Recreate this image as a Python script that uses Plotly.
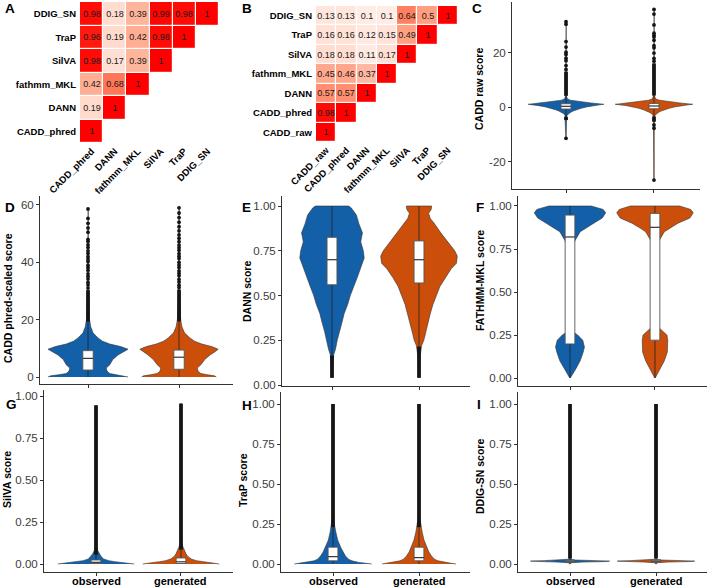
import plotly.graph_objects as go

W, H = 708, 588
FONT = "Liberation Sans, Arial, sans-serif"
BLUE = "#1360A8"
ORANGE = "#CB4F0A"

# ---------------- heatmap data ----------------
a_rows = ["DDIG_SN", "TraP", "SilVA", "fathmm_MKL", "DANN", "CADD_phred"]
a_cols = ["CADD_phred", "DANN", "fathmm_MKL", "SilVA", "TraP", "DDIG_SN"]
a_vals = [
    [0.98, 0.18, 0.39, 0.99, 0.98, 1],
    [0.96, 0.19, 0.42, 0.98, 1],
    [0.98, 0.17, 0.39, 1],
    [0.42, 0.68, 1],
    [0.19, 1],
    [1],
]
b_rows = ["DDIG_SN", "TraP", "SilVA", "fathmm_MKL", "DANN", "CADD_phred", "CADD_raw"]
b_cols = ["CADD_raw", "CADD_phred", "DANN", "fathmm_MKL", "SilVA", "TraP", "DDIG_SN"]
b_vals = [
    [0.13, 0.13, 0.1, 0.1, 0.64, 0.5, 1],
    [0.16, 0.16, 0.12, 0.15, 0.49, 1],
    [0.18, 0.18, 0.11, 0.17, 1],
    [0.45, 0.46, 0.37, 1],
    [0.57, 0.57, 1],
    [0.98, 1],
    [1],
]

# ---------------- violin panels data ----------------
groups = ["observed", "generated"]
group_pos = [1, 2]

# C: CADD raw score
c_obs_levels = [-11.5, -6, -4, -3, -2.5, -2, -1.5, -1, -0.5, 0, 0.5, 0.8, 1.0, 1.2, 1.5, 2.0, 2.5, 3.0, 4, 8, 20, 31.5]
c_obs_width = [0.002, 0.003, 0.006, 0.012, 0.025, 0.05, 0.08, 0.12, 0.17, 0.23, 0.31, 0.38, 0.43, 0.37, 0.28, 0.15, 0.05, 0.015, 0.006, 0.003, 0.002, 0.002]
c_gen_levels = [-27, -8, -4, -3, -2.5, -2, -1.5, -1, -0.5, 0, 0.5, 0.8, 1.0, 1.2, 1.5, 2.0, 2.5, 3.0, 4, 8, 20, 36]
c_gen_width = [0.002, 0.003, 0.006, 0.012, 0.025, 0.05, 0.08, 0.12, 0.17, 0.23, 0.31, 0.39, 0.44, 0.38, 0.29, 0.16, 0.06, 0.018, 0.007, 0.003, 0.002, 0.002]
c_q1 = [-0.75, -0.65]
c_med = [0.25, 0.37]
c_q3 = [1.2, 1.3]
c_lo = [-3.6, -3.5]
c_hi = [4.1, 4.2]
c_obs_dense = [[-4.8, -3.6], [4.1, 13.0]]
c_gen_dense = [[-5.4, -3.5], [4.2, 16.0]]
c_obs_pts = [-11.5, 13.8, 15.2, 17.0, 17.9, 19.3, 20.1, 22.0, 24.0, 30.4, 31.3]
c_gen_pts = [-26.8, -7.8, -6.6, 16.8, 17.8, 19.8, 21.7, 22.5, 24.5, 25.7, 26.3, 27.1, 30.1, 34.1, 35.8]

# D: CADD phred-scaled score
d_obs_levels = [0, 0.4, 0.8, 1.2, 2.0, 3.1, 4.3, 6.0, 7.7, 8.9, 9.7, 10.6, 11.5, 12.5, 13.6, 15.4, 17.5, 20, 25, 30, 40, 58]
d_obs_width = [0.44, 0.41, 0.32, 0.24, 0.21, 0.2, 0.24, 0.27, 0.33, 0.4, 0.44, 0.36, 0.24, 0.16, 0.11, 0.055, 0.03, 0.017, 0.008, 0.005, 0.003, 0.002]
d_gen_levels = [0, 0.4, 0.8, 1.2, 2.0, 3.1, 4.3, 6.0, 7.7, 8.9, 9.7, 10.6, 11.5, 12.5, 13.6, 15.4, 17.5, 20, 25, 30, 40, 59]
d_gen_width = [0.41, 0.39, 0.31, 0.24, 0.21, 0.2, 0.24, 0.28, 0.34, 0.4, 0.43, 0.36, 0.25, 0.17, 0.12, 0.06, 0.032, 0.018, 0.009, 0.005, 0.003, 0.002]
d_q1 = [2.44, 2.7]
d_med = [6.5, 6.9]
d_q3 = [9.2, 9.4]
d_lo = [0, 0]
d_hi = [19.3, 19.4]
d_obs_dense = [[19.3, 30.3]]
d_gen_dense = [[19.4, 30.5]]
d_obs_pts = [31.0, 32.1, 33.0, 34.2, 35.1, 36.0, 37.2, 38.1, 39.0, 40.3, 41.2, 42.0, 43.1, 44.0, 45.2, 46.1, 47.3, 48.0, 50.5, 52.0, 53.6, 55.3, 58.6]
d_gen_pts = [31.2, 32.0, 33.1, 34.0, 35.3, 36.1, 37.0, 38.2, 39.1, 40.0, 41.3, 42.1, 43.0, 44.2, 45.1, 46.0, 47.2, 48.4, 49.6, 51.0, 52.4, 54.0, 55.6, 57.2, 59.0]

# E: DANN score
e_obs_levels = [0.04, 0.1, 0.17, 0.2, 0.25, 0.3, 0.35, 0.4, 0.45, 0.5, 0.55, 0.6, 0.65, 0.71, 0.75, 0.8, 0.85, 0.9, 0.95, 0.97, 0.99, 1.0]
e_obs_width = [0.003, 0.01, 0.02, 0.04, 0.06, 0.086, 0.115, 0.14, 0.18, 0.21, 0.25, 0.29, 0.33, 0.37, 0.36, 0.33, 0.35, 0.31, 0.28, 0.25, 0.22, 0.19]
e_gen_levels = [0.04, 0.1, 0.15, 0.22, 0.25, 0.3, 0.35, 0.4, 0.45, 0.5, 0.55, 0.6, 0.65, 0.68, 0.72, 0.75, 0.8, 0.85, 0.9, 0.93, 0.96, 0.98, 1.0]
e_gen_width = [0.003, 0.006, 0.01, 0.03, 0.055, 0.08, 0.105, 0.13, 0.16, 0.2, 0.24, 0.3, 0.37, 0.43, 0.44, 0.41, 0.33, 0.25, 0.18, 0.13, 0.11, 0.14, 0.145]
e_q1 = [0.56, 0.57]
e_med = [0.70, 0.70]
e_q3 = [0.825, 0.805]
e_lo = [0.165, 0.215]
e_hi = [1.0, 1.0]
e_obs_dense = [[0.04, 0.165]]
e_gen_dense = [[0.04, 0.215]]

# F: FATHMM-MKL score
f_levels = [0.0, 0.02, 0.05, 0.1, 0.15, 0.18, 0.22, 0.25, 0.27, 0.3, 0.35, 0.4, 0.5, 0.6, 0.7, 0.75, 0.8, 0.85, 0.87, 0.9, 0.93, 0.96, 0.98, 1.0]
f_obs_width = [0.003, 0.025, 0.065, 0.12, 0.155, 0.17, 0.15, 0.09, 0.03, 0.015, 0.008, 0.005, 0.003, 0.004, 0.01, 0.025, 0.06, 0.12, 0.18, 0.28, 0.38, 0.42, 0.39, 0.25]
f_gen_width = [0.003, 0.025, 0.06, 0.11, 0.145, 0.15, 0.15, 0.14, 0.1, 0.03, 0.01, 0.005, 0.003, 0.004, 0.01, 0.02, 0.05, 0.11, 0.17, 0.27, 0.41, 0.45, 0.42, 0.29]
f_q1 = [0.198, 0.22]
f_med = [0.82, 0.876]
f_q3 = [0.947, 0.957]
f_lo = [0.0, 0.0]
f_hi = [1.0, 1.0]

# G: SilVA score
g_obs_levels = [0, 0.004, 0.008, 0.014, 0.02, 0.03, 0.045, 0.06, 0.08, 0.1, 0.15, 0.3, 0.945]
g_obs_width = [0.45, 0.40, 0.32, 0.22, 0.15, 0.09, 0.06, 0.04, 0.02, 0.01, 0.005, 0.003, 0.002]
g_gen_levels = [0, 0.004, 0.008, 0.014, 0.02, 0.03, 0.045, 0.06, 0.08, 0.1, 0.12, 0.2, 0.955]
g_gen_width = [0.45, 0.41, 0.34, 0.25, 0.18, 0.12, 0.08, 0.06, 0.04, 0.025, 0.012, 0.005, 0.002]
g_q1 = [0.003, 0.003]
g_med = [0.01, 0.013]
g_q3 = [0.024, 0.036]
g_lo = [0.0, 0.0]
g_hi = [0.055, 0.085]
g_obs_dense = [[0.055, 0.945]]
g_gen_dense = [[0.085, 0.955]]

# H: TraP score
h_levels = [0, 0.005, 0.01, 0.02, 0.03, 0.05, 0.075, 0.1, 0.15, 0.2, 0.25, 0.3, 0.5, 1.0]
h_obs_width = [0.45, 0.38, 0.3, 0.22, 0.18, 0.145, 0.115, 0.093, 0.054, 0.033, 0.015, 0.006, 0.003, 0.002]
h_gen_width = [0.43, 0.37, 0.3, 0.22, 0.18, 0.145, 0.115, 0.095, 0.058, 0.036, 0.018, 0.007, 0.003, 0.002]
h_q1 = [0.02, 0.02]
h_med = [0.046, 0.04]
h_q3 = [0.105, 0.105]
h_lo = [0.0, 0.0]
h_hi = [0.23, 0.23]
h_obs_dense = [[0.23, 1.0]]
h_gen_dense = [[0.23, 1.0]]

# I: DDIG-SN score
i_levels = [0.0, 0.008, 0.012, 0.015, 0.018, 0.021, 0.025, 0.03, 0.05, 1.0]
i_obs_width = [0.003, 0.02, 0.15, 0.4, 0.46, 0.3, 0.06, 0.01, 0.004, 0.002]
i_gen_width = [0.003, 0.02, 0.14, 0.38, 0.45, 0.3, 0.06, 0.01, 0.004, 0.002]
i_q1 = [0.012, 0.014]
i_med = [0.018, 0.019]
i_q3 = [0.024, 0.026]
i_lo = [0.005, 0.005]
i_hi = [0.034, 0.035]
i_obs_dense = [[0.034, 1.0]]
i_gen_dense = [[0.035, 1.0]]


# ---------------- helpers ----------------
def pxx(p):
    return p / W


def pxy(p):
    return 1 - p / H


def _lin(c):
    c = c / 255.0
    return c / 12.92 if c <= 0.04045 else ((c + 0.055) / 1.055) ** 2.4


def _f(t):
    return t ** (1 / 3) if t > (6 / 29) ** 3 else t / (3 * (6 / 29) ** 2) + 4 / 29


def _finv(t):
    return t ** 3 if t > 6 / 29 else 3 * (6 / 29) ** 2 * (t - 4 / 29)


def rgb2lab(rgb):
    r, g, b = [_lin(c) for c in rgb]
    X = (0.4124 * r + 0.3576 * g + 0.1805 * b) / 0.95047
    Y = 0.2126 * r + 0.7152 * g + 0.0722 * b
    Z = (0.0193 * r + 0.1192 * g + 0.9505 * b) / 1.08883
    return (116 * _f(Y) - 16, 500 * (_f(X) - _f(Y)), 200 * (_f(Y) - _f(Z)))


def lab2rgb(lab):
    L, a, b = lab
    fy = (L + 16) / 116
    X = _finv(fy + a / 500) * 0.95047
    Y = _finv(fy)
    Z = _finv(fy - b / 200) * 1.08883
    r = 3.2406 * X - 1.5372 * Y - 0.4986 * Z
    g = -0.9689 * X + 1.8758 * Y + 0.0415 * Z
    bb = 0.0557 * X - 0.2040 * Y + 1.0570 * Z
    out = []
    for c in (r, g, bb):
        c = max(0.0, c)
        v = 12.92 * c if c <= 0.0031308 else 1.055 * c ** (1 / 2.4) - 0.055
        out.append(int(max(0, min(255, round(v * 255)))))
    return "rgb(%d,%d,%d)" % tuple(out)


lw, lr = rgb2lab((255, 255, 255)), rgb2lab((255, 0, 0))
colorscale = []
for k in range(11):
    t = k / 10
    colorscale.append([t, lab2rgb(tuple(lw[j] + (lr[j] - lw[j]) * t for j in range(3)))])


def tri(vals, ncol):
    z, txt = [], []
    for r in vals:
        z.append(list(r) + [None] * (ncol - len(r)))
        txt.append([("%g" % v) for v in r] + [""] * (ncol - len(r)))
    return z, txt


fig = go.Figure()
annotations = []

# ---------------- heatmaps ----------------
def add_heat(idx, rows, cols, vals, xpx, ypx):
    z, txt = tri(vals, len(cols))
    sfx = "" if idx == 1 else str(idx)
    fig.add_trace(go.Heatmap(
        z=z, x=cols, y=rows, text=txt, texttemplate="%{text}",
        textfont=dict(size=9, color="#1a1a1a", family=FONT),
        colorscale=colorscale, zmin=0, zmax=1, showscale=False,
        xgap=1.2, ygap=1.2, hoverinfo="skip", xaxis="x" + sfx, yaxis="y" + sfx))
    n, m = len(cols), len(rows)
    fig.layout["xaxis" + sfx] = dict(
        domain=[pxx(xpx[0]), pxx(xpx[1])], anchor="y" + sfx, type="category",
        range=[-0.5, n - 0.5], showgrid=False, zeroline=False, showline=False,
        ticks="", tickangle=-45, automargin=False,
        tickfont=dict(size=9.5, color="black", family=FONT, weight="bold"))
    fig.layout["yaxis" + sfx] = dict(
        domain=[pxy(ypx[1]), pxy(ypx[0])], anchor="x" + sfx, type="category",
        range=[m - 0.5, -0.5], showgrid=False, zeroline=False, showline=False,
        ticks="", ticklabelstandoff=3, automargin=False,
        tickfont=dict(size=9.5, color="black", family=FONT, weight="bold"))


add_heat(1, a_rows, a_cols, a_vals, (80, 219), (2, 143))
add_heat(2, b_rows, b_cols, b_vals, (316, 458), (6, 142))

# ---------------- violins ----------------
BOX_HW = 0.057


def violin_trace(sfx, pos, levels, widths, color):
    xs = [pos - w for w in widths] + [pos + w for w in widths[::-1]]
    ys = list(levels) + list(levels[::-1])
    fig.add_trace(go.Scatter(
        x=xs, y=ys, fill="toself", fillcolor=color, mode="lines",
        line=dict(color="#333333", width=0.6), hoverinfo="skip",
        showlegend=False, xaxis="x" + sfx, yaxis="y" + sfx))


def box_traces(sfx, pos, q1, med, q3, lo, hi):
    kw = dict(hoverinfo="skip", showlegend=False, xaxis="x" + sfx, yaxis="y" + sfx)
    fig.add_trace(go.Scatter(x=[pos, pos, None, pos, pos], y=[lo, q1, None, q3, hi],
                             mode="lines", line=dict(color="#222222", width=0.8), **kw))
    fig.add_trace(go.Scatter(
        x=[pos - BOX_HW, pos + BOX_HW, pos + BOX_HW, pos - BOX_HW, pos - BOX_HW],
        y=[q1, q1, q3, q3, q1], fill="toself", fillcolor="white", mode="lines",
        line=dict(color="#555555", width=0.9), **kw))
    fig.add_trace(go.Scatter(x=[pos - BOX_HW, pos + BOX_HW], y=[med, med], mode="lines",
                             line=dict(color="#333333", width=1.2), **kw))


def outliers(sfx, pos, dense, pts):
    if dense:
        xs, ys = [], []
        for a, b in dense:
            xs += [pos, pos, None]
            ys += [a, b, None]
        fig.add_trace(go.Scatter(x=xs, y=ys, mode="lines",
                                 line=dict(color="#151515", width=3.8),
                                 hoverinfo="skip", showlegend=False,
                                 xaxis="x" + sfx, yaxis="y" + sfx))
    if pts:
        fig.add_trace(go.Scatter(x=[pos] * len(pts), y=pts, mode="markers",
                                 marker=dict(color="#151515", size=3.8),
                                 hoverinfo="skip", showlegend=False,
                                 xaxis="x" + sfx, yaxis="y" + sfx))


def panel(idx, xpx, ypx, xr, yr, ytv, ytt, show_x, obs, gen, box, title, tpos):
    sfx = str(idx)
    violin_trace(sfx, group_pos[0], obs[0], obs[1], BLUE)
    violin_trace(sfx, group_pos[1], gen[0], gen[1], ORANGE)
    q1, med, q3, lo, hi = box
    for g in range(2):
        box_traces(sfx, group_pos[g], q1[g], med[g], q3[g], lo[g], hi[g])
    outliers(sfx, group_pos[0], obs[2], obs[3])
    outliers(sfx, group_pos[1], gen[2], gen[3])
    fig.layout["xaxis" + sfx] = dict(
        domain=[pxx(xpx[0]), pxx(xpx[1])], anchor="y" + sfx, range=xr,
        showgrid=False, zeroline=False, showline=True, linecolor="#333333",
        linewidth=1, ticks="outside", ticklen=3, tickcolor="#333333",
        tickvals=group_pos, showticklabels=False, automargin=False)
    fig.layout["yaxis" + sfx] = dict(
        domain=[pxy(ypx[1]), pxy(ypx[0])], anchor="x" + sfx, range=yr,
        showgrid=False, zeroline=False, showline=True, linecolor="#333333",
        linewidth=1, ticks="outside", ticklen=3, tickcolor="#333333",
        tickvals=ytv, ticktext=ytt, automargin=False,
        tickfont=dict(size=11.5, color="#3c3c3c", family=FONT))
    if show_x:
        for g in range(2):
            annotations.append(dict(
                text="<b>%s</b>" % groups[g], x=group_pos[g], y=pxy(581),
                xref="x" + sfx, yref="paper", xanchor="center", yanchor="middle",
                showarrow=False, font=dict(size=11, color="black", family=FONT)))
    annotations.append(dict(
        text="<b>%s</b>" % title, x=pxx(tpos[0]), y=pxy(tpos[1]), xref="paper",
        yref="paper", xanchor="center", yanchor="middle", textangle=-90,
        showarrow=False, font=dict(size=10.5, color="black", family=FONT)))


unit_ticks = [0, 0.25, 0.5, 0.75, 1.0]
unit_text = ["0.00", "0.25", "0.50", "0.75", "1.00"]

panel(3, (512, 700), (2, 189), [0.386, 2.523], [-30.09, 38.53],
      [-20, 0, 20], ["-20", "0", "20"], False,
      (c_obs_levels, c_obs_width, c_obs_dense, c_obs_pts),
      (c_gen_levels, c_gen_width, c_gen_dense, c_gen_pts),
      (c_q1, c_med, c_q3, c_lo, c_hi), "CADD raw score", (479, 89))
panel(4, (40, 233), (196, 384), [0.4725, 2.593], [-2.44, 63.13],
      [0, 20, 40, 60], ["0", "20", "40", "60"], False,
      (d_obs_levels, d_obs_width, d_obs_dense, d_obs_pts),
      (d_gen_levels, d_gen_width, d_gen_dense, d_gen_pts),
      (d_q1, d_med, d_q3, d_lo, d_hi), "CADD phred-scaled score", (8, 298))
panel(5, (282, 470), (196, 386), [0.4253, 2.586], [-0.0056, 1.0559],
      unit_ticks, unit_text, False,
      (e_obs_levels, e_obs_width, e_obs_dense, None),
      (e_gen_levels, e_gen_width, e_gen_dense, None),
      (e_q1, e_med, e_q3, e_lo, e_hi), "DANN score", (247, 291))
panel(6, (518, 707), (196, 386), [0.3882, 2.612], [-0.0465, 1.0581],
      unit_ticks, unit_text, False,
      (f_levels, f_obs_width, None, None),
      (f_levels, f_gen_width, None, None),
      (f_q1, f_med, f_q3, f_lo, f_hi), "FATHMM-MKL score", (480, 281))
panel(7, (44, 233), (390, 572), [0.3882, 2.612], [-0.0476, 1.0357],
      unit_ticks, unit_text, True,
      (g_obs_levels, g_obs_width, g_obs_dense, None),
      (g_gen_levels, g_gen_width, g_gen_dense, None),
      (g_q1, g_med, g_q3, g_lo, g_hi), "SilVA score", (7, 480))
panel(8, (281, 470), (392, 572), [0.3953, 2.593], [-0.05, 1.075],
      unit_ticks, unit_text, True,
      (h_levels, h_obs_width, h_obs_dense, None),
      (h_levels, h_gen_width, h_gen_dense, None),
      (h_q1, h_med, h_q3, h_lo, h_hi), "TraP score", (243, 480))
panel(9, (518, 707), (392, 572), [0.3953, 2.593], [-0.05, 1.075],
      unit_ticks, unit_text, True,
      (i_levels, i_obs_width, i_obs_dense, None),
      (i_levels, i_gen_width, i_gen_dense, None),
      (i_q1, i_med, i_q3, i_lo, i_hi), "DDIG-SN score", (480, 477))

# panel letters
letters = [("A", 10, 9), ("B", 247, 9), ("C", 477, 9), ("D", 10, 207), ("E", 246, 207),
           ("F", 480, 207), ("G", 11, 404), ("H", 247, 405), ("I", 479, 404)]
for t, x, y in letters:
    annotations.append(dict(text="<b>%s</b>" % t, x=pxx(x), y=pxy(y), xref="paper",
                            yref="paper", xanchor="center", yanchor="middle",
                            showarrow=False, font=dict(size=13.5, color="black", family=FONT)))

fig.update_layout(
    template="none",
    width=W, height=H, margin=dict(l=0, r=0, t=0, b=0, autoexpand=False),
    paper_bgcolor="white", plot_bgcolor="white", showlegend=False,
    font=dict(family=FONT), annotations=annotations)

fig.write_html("out.html", config={"displayModeBar": False},
               post_script="document.body.style.margin='0px';")
